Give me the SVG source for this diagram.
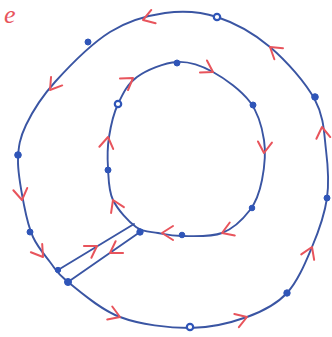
<svg xmlns="http://www.w3.org/2000/svg" width="332" height="337" viewBox="0 0 332 337">
<style>
.loop{fill:none;stroke:#3a55a3;stroke-width:1.9;stroke-linejoin:round;stroke-linecap:round}
.dot{fill:#2f55b8;stroke:#2f55b8;stroke-width:1}
.ring{fill:#ffffff;stroke:#2f55b8;stroke-width:2.2}
.lbl{font-family:"Liberation Serif",serif;font-style:italic;font-size:26px;fill:#e8545c}
</style>
<defs>
<path id="chev" d="M-11,-7 L0,0 L-11,7" fill="none" stroke="#e8545c" stroke-width="2" stroke-linecap="round" stroke-linejoin="round"/>
</defs>
<rect width="332" height="337" fill="#ffffff"/>
<text class="lbl" x="4" y="23">e</text>
<g id="connectors">
<path id="outer" class="loop" d="M68,282 C79.7,291.2 99.7,309.3 120,317 C140.3,324.7 168.8,328 190,328 C211.2,328 230.8,322.8 247,317 C263.2,311.2 276.2,304.7 287,293 C297.8,281.3 305.3,262.8 312,247 C318.7,231.2 324.7,214.2 327,198 C329.3,181.8 328,166.3 326,150 C324,133.7 324.3,117.2 315,100 C305.7,82.8 286.3,60.8 270,47 C253.7,33.2 234.5,22.7 217,17 C199.5,11.3 182.8,10.5 165,13 C147.2,15.5 128.3,20.5 110,32 C91.7,43.5 69,66.5 55,82 C41,97.5 32.2,112 26,125 C19.8,138 18.3,146.7 18,160 C17.7,173.3 21.5,192.2 24,205 C26.5,217.8 28.7,227.5 33,237 C37.3,246.5 44.2,254.5 50,262 C55.8,269.5 56.3,272.8 68,282 Z"/>
<path id="inner" class="loop" d="M136,227 C128.5,221.5 117.7,209.8 113,200 C108.3,190.2 108.7,178.5 108,168 C107.3,157.5 107.3,147.7 109,137 C110.7,126.3 113.3,114 118,104 C122.7,94 127.2,84 137,77 C146.8,70 164.3,62.8 177,62 C189.7,61.2 200.8,65.3 213,72 C225.2,78.7 241.5,90.7 250,102 C258.5,113.3 262,127 264,140 C266,153 264.3,168.3 262,180 C259.7,191.7 256.7,201.2 250,210 C243.3,218.8 233.3,228.7 222,233 C210.7,237.3 192.7,236 182,236 C171.3,236 165.7,234.5 158,233 C150.3,231.5 143.5,232.5 136,227 Z"/>
<path id="bridge-a" class="loop" d="M58,270 L134,224"/>
<path id="bridge-b" class="loop" d="M68,282 L140,232"/>
</g>
<g id="arrows">
<use href="#chev" transform="translate(143,20) rotate(162)"/>
<use href="#chev" transform="translate(270,47) rotate(-142)"/>
<use href="#chev" transform="translate(50,90) rotate(127)"/>
<use href="#chev" transform="translate(22,200) rotate(81)"/>
<use href="#chev" transform="translate(43,257) rotate(54)"/>
<use href="#chev" transform="translate(120,317) rotate(21)"/>
<use href="#chev" transform="translate(247,317) rotate(-19)"/>
<use href="#chev" transform="translate(312,247) rotate(-67)"/>
<use href="#chev" transform="translate(322,127) rotate(-97)"/>
<use href="#chev" transform="translate(133,78) rotate(-35)"/>
<use href="#chev" transform="translate(213,72) rotate(30)"/>
<use href="#chev" transform="translate(264,153) rotate(95)"/>
<use href="#chev" transform="translate(222,233) rotate(159)"/>
<use href="#chev" transform="translate(162,233) rotate(180)"/>
<use href="#chev" transform="translate(113,200) rotate(-114)"/>
<use href="#chev" transform="translate(108,137) rotate(-81)"/>
<use href="#chev" transform="translate(97,246) rotate(-32)"/>
<use href="#chev" transform="translate(110,253) rotate(148)"/>
</g>
<g id="nodes">
<circle id="o1" class="dot" cx="88" cy="42" r="3"/>
<circle id="o2" class="ring" cx="217" cy="17" r="3.2"/>
<circle id="o3" class="dot" cx="315" cy="97" r="3.3"/>
<circle id="o4" class="dot" cx="327" cy="198" r="3"/>
<circle id="o5" class="dot" cx="287" cy="293" r="3.2"/>
<circle id="o6" class="ring" cx="190" cy="327" r="3.2"/>
<circle id="o7" class="dot" cx="68" cy="282" r="3.5"/>
<circle id="o8" class="dot" cx="58" cy="270" r="2.7"/>
<circle id="o9" class="dot" cx="30" cy="232" r="3"/>
<circle id="o10" class="dot" cx="18" cy="155" r="3.3"/>
<circle id="i1" class="dot" cx="177" cy="63" r="3"/>
<circle id="i2" class="ring" cx="118" cy="104" r="3.2"/>
<circle id="i3" class="dot" cx="108" cy="170" r="3"/>
<circle id="i4" class="dot" cx="140" cy="232" r="3.2"/>
<circle id="i5" class="dot" cx="182" cy="235" r="2.8"/>
<circle id="i6" class="dot" cx="252" cy="208" r="2.8"/>
<circle id="i7" class="dot" cx="253" cy="105" r="3"/>
</g>
</svg>
